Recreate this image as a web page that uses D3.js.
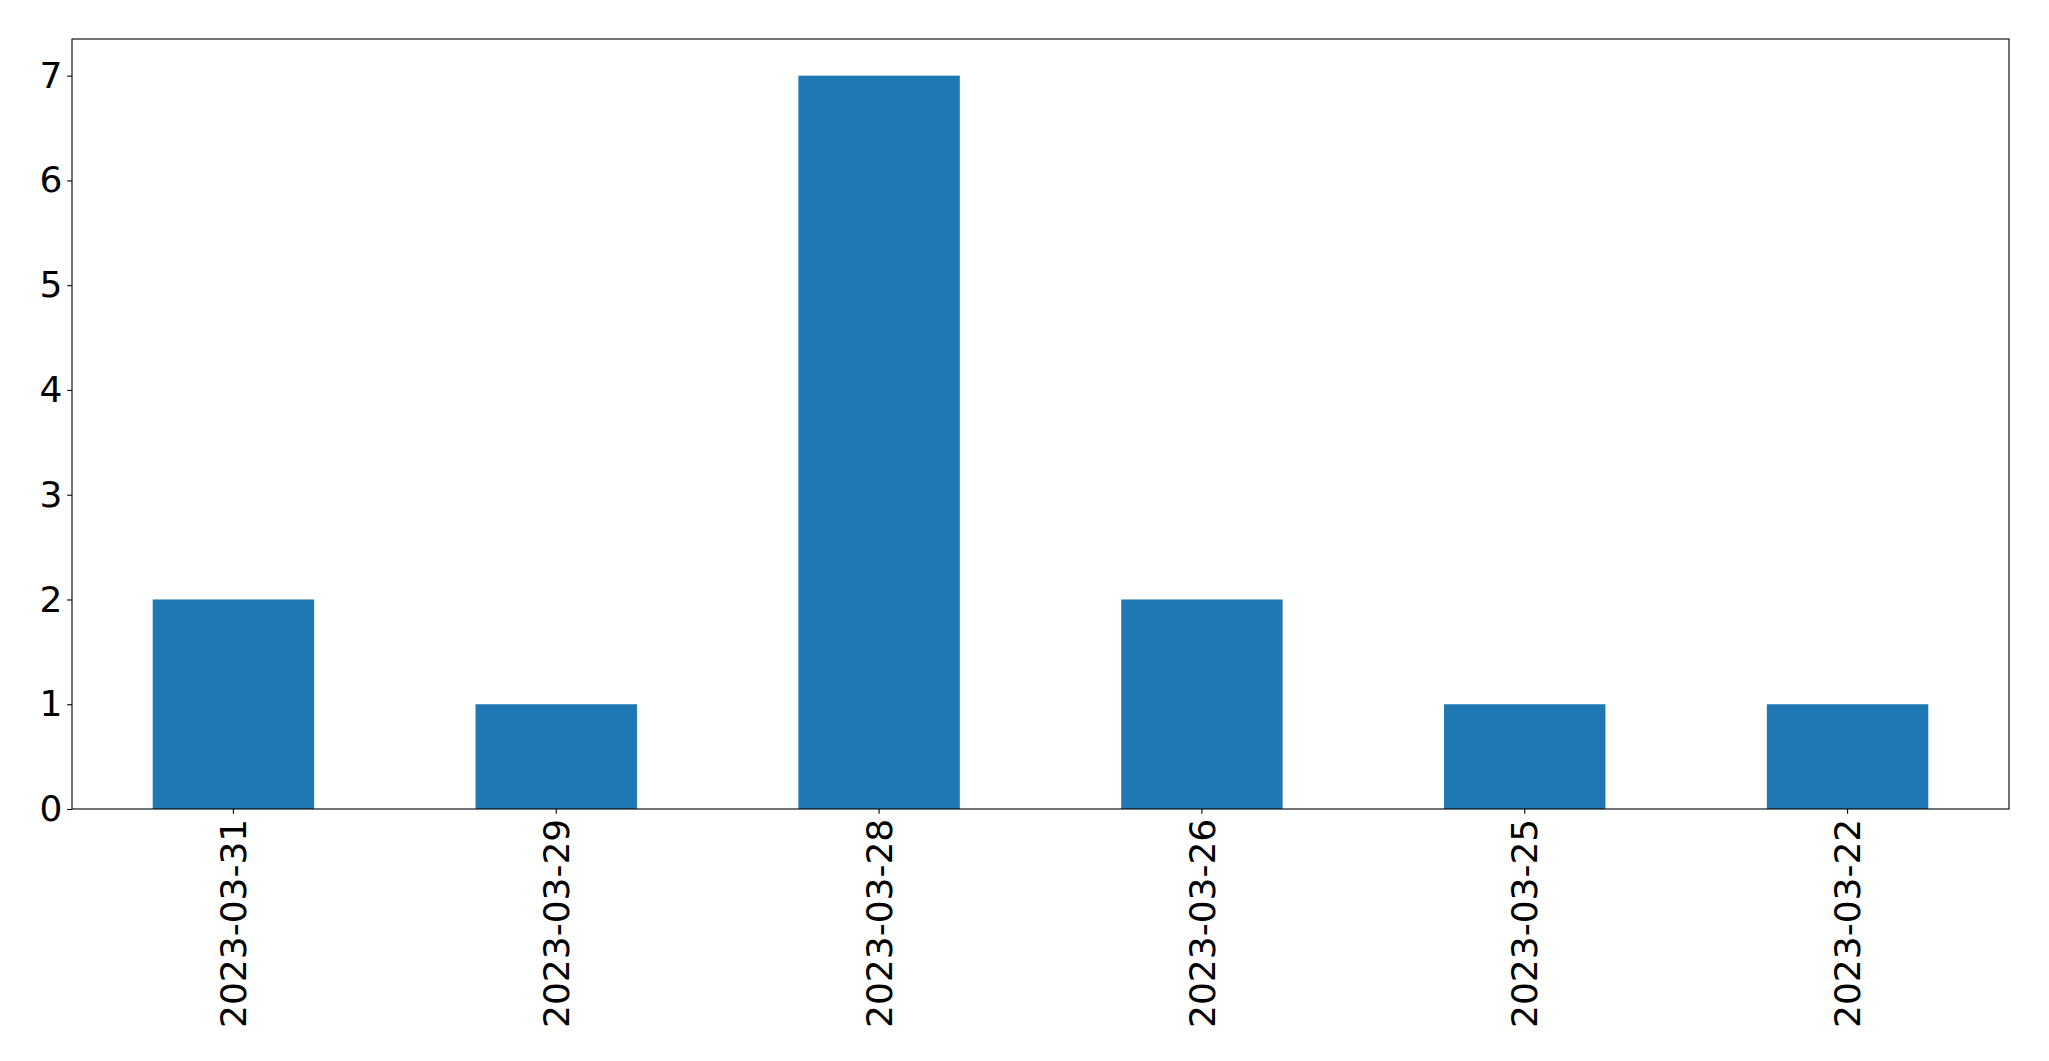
<!DOCTYPE html>
<html>
<head>
<meta charset="utf-8">
<script src="https://cdn.jsdelivr.net/npm/d3@7"></script>
<style>
  html, body { margin: 0; padding: 0; background: #fff; }
  svg { display: block; }
</style>
</head>
<body>
<svg id="chart" width="2049" height="1061"></svg>
<script>
const categories = ["2023-03-31", "2023-03-29", "2023-03-28", "2023-03-26", "2023-03-25", "2023-03-22"];
const values = [2, 1, 7, 2, 1, 1];
const yTicks = [0, 1, 2, 3, 4, 5, 6, 7];

const W = 2049, H = 1061;
const margin = { left: 72, top: 39, right: W - 2009, bottom: H - 809 };
const svg = d3.select("#chart");
const font = "DejaVu Sans, sans-serif";
const fontSize = 36;
const tickLen = 4.86, tickPad = 4.86;

const x = d3.scaleBand()
  .domain(categories)
  .range([margin.left, W - margin.right])
  .paddingInner(0.5)
  .paddingOuter(0.25);

const y = d3.scaleLinear()
  .domain([0, 7.35])
  .range([H - margin.bottom, margin.top]);

svg.append("rect").attr("width", W).attr("height", H).attr("fill", "#fff");

svg.append("g").selectAll("rect")
  .data(categories.map((c, i) => ({ c, v: values[i] })))
  .join("rect")
  .attr("x", d => x(d.c))
  .attr("width", x.bandwidth())
  .attr("y", d => y(d.v))
  .attr("height", d => y(0) - y(d.v))
  .attr("fill", "#1f77b4");

// y axis
const yAxis = svg.append("g")
  .attr("transform", `translate(${margin.left},0)`)
  .call(d3.axisLeft(y).tickValues(yTicks).tickFormat(d3.format("d")).tickSize(tickLen).tickPadding(tickPad));
yAxis.select(".domain").remove();
yAxis.selectAll("line").attr("stroke", "#000").attr("stroke-width", 1.1);
yAxis.selectAll("text").attr("font-family", font).attr("font-size", fontSize).attr("fill", "#000");

// x axis
const xAxis = svg.append("g")
  .attr("transform", `translate(0,${H - margin.bottom})`)
  .call(d3.axisBottom(x).tickSize(tickLen).tickPadding(tickPad));
xAxis.select(".domain").remove();
xAxis.selectAll("line").attr("stroke", "#000").attr("stroke-width", 1.1);
xAxis.selectAll("text")
  .attr("font-family", font).attr("font-size", fontSize).attr("fill", "#000")
  .attr("transform", "rotate(-90)")
  .attr("text-anchor", "end")
  .attr("x", -(tickLen + tickPad))
  .attr("y", 0)
  .attr("dy", "0.35em");

// frame
svg.append("rect")
  .attr("x", margin.left).attr("y", margin.top)
  .attr("width", W - margin.right - margin.left)
  .attr("height", H - margin.bottom - margin.top)
  .attr("fill", "none").attr("stroke", "#000").attr("stroke-width", 1.1);
</script>
</body>
</html>
